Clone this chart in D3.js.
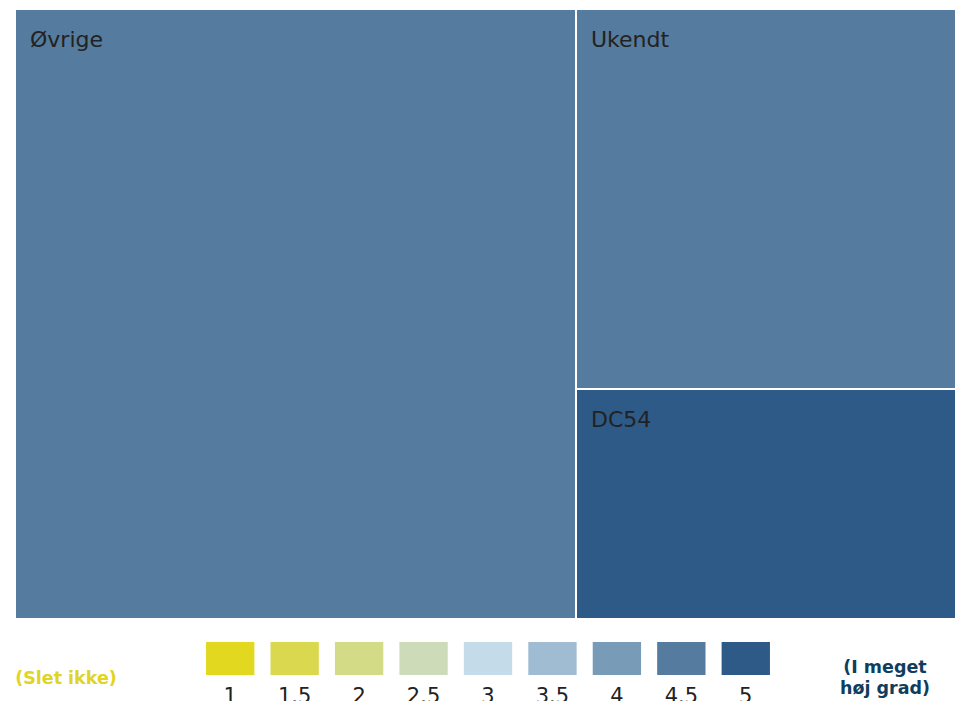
<!DOCTYPE html>
<html>
<head>
<meta charset="utf-8">
<script src="https://cdn.jsdelivr.net/npm/d3@7"></script>
<style>
  body { margin: 0; background: #fff; }
  svg { display: block; font-family: "DejaVu Sans", Verdana, sans-serif; }
</style>
</head>
<body>
<div id="viz"></div>
<script>
// cells of the treemap
var names  = ["Øvrige", "Ukendt", "DC54"];
var values = [59.6, 25.2, 15.2];
var scores = [4.5, 4.5, 5];

// legend steps + colours
var legendSteps  = [1, 1.5, 2, 2.5, 3, 3.5, 4, 4.5, 5];
var legendLabels = ["1", "1.5", "2", "2.5", "3", "3.5", "4", "4.5", "5"];
var legendColors = ["#e1d81f", "#d9d84f", "#d3db86", "#cddbb8", "#c4dcea",
                    "#9fbcd2", "#789cb8", "#557b9e", "#2e5a87"];

var W = 955, H = 701;
var margin = {top: 10, right: 0, bottom: 83, left: 16},
    width = W - margin.left - margin.right,
    height = H - margin.top - margin.bottom;

var color = d3.scaleOrdinal().domain(legendSteps).range(legendColors);

var svg = d3.select("#viz").append("svg")
    .attr("width", W)
    .attr("height", H);

var root = d3.hierarchy({children: names.map(function(n, i) {
        return {name: n, value: values[i], score: scores[i]};
    })})
    .sum(function(d) { return d.value || 0; })
    .sort(function(a, b) { return b.value - a.value; });

d3.treemap()
    .tile(d3.treemapSquarify)
    .size([width, height])
    .paddingInner(2)
    .round(true)(root);

var chart = svg.append("g")
    .attr("transform", "translate(" + margin.left + "," + margin.top + ")");

var cell = chart.selectAll("g.cell")
    .data(root.leaves())
    .enter().append("g")
      .attr("class", "cell")
      .attr("transform", function(d) { return "translate(" + d.x0 + "," + d.y0 + ")"; });

cell.append("rect")
    .attr("width", function(d) { return d.x1 - d.x0; })
    .attr("height", function(d) { return d.y1 - d.y0; })
    .attr("fill", function(d) { return color(d.data.score); });

cell.append("text")
    .attr("x", 14)
    .attr("y", 37)
    .attr("fill", "#222")
    .style("font-size", "22px")
    .text(function(d) { return d.data.name; });

// legend
var lx = d3.scaleBand()
    .domain(legendLabels)
    .range([198, 778])
    .paddingInner(0.25)
    .paddingOuter(0.125);

var legend = svg.append("g");

legend.selectAll("rect")
    .data(legendLabels)
    .enter().append("rect")
      .attr("x", function(d) { return lx(d); })
      .attr("y", 642)
      .attr("width", lx.bandwidth())
      .attr("height", 33)
      .attr("fill", function(d, i) { return legendColors[i]; });

legend.selectAll("text.step")
    .data(legendLabels)
    .enter().append("text")
      .attr("class", "step")
      .attr("x", function(d) { return lx(d) + lx.bandwidth() / 2; })
      .attr("y", 703)
      .attr("text-anchor", "middle")
      .attr("fill", "#222")
      .style("font-size", "21px")
      .text(function(d) { return d; });

svg.append("text")
    .attr("x", 66)
    .attr("y", 684)
    .attr("text-anchor", "middle")
    .attr("fill", "#e0d520")
    .style("font-size", "17.5px")
    .style("font-weight", "bold")
    .text("(Slet ikke)");

var hi = svg.append("text")
    .attr("text-anchor", "middle")
    .attr("fill", "#0f3d5e")
    .style("font-size", "17.5px")
    .style("font-weight", "bold");
hi.append("tspan").attr("x", 885).attr("y", 673).text("(I meget");
hi.append("tspan").attr("x", 885).attr("y", 694).text("høj grad)");
</script>
</body>
</html>
